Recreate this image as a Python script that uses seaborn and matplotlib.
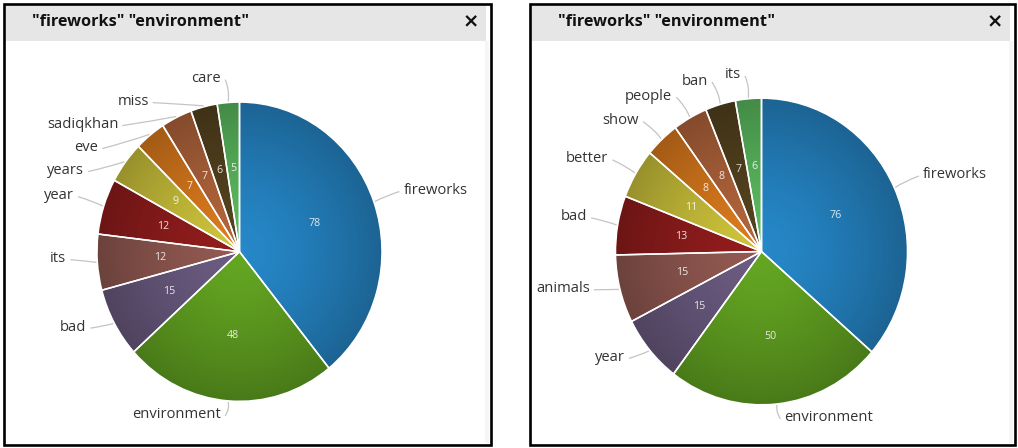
import numpy as np
import matplotlib
matplotlib.use("Agg")
import matplotlib.pyplot as plt
import seaborn as sns
from matplotlib.patches import Rectangle, Circle, PathPatch
from matplotlib.path import Path

# ---------------- data ----------------
title = '"fireworks" "environment"'

left_words = ["fireworks", "environment", "bad", "its", "year", "years",
              "eve", "sadiqkhan", "miss", "care"]
left_counts = [78, 48, 15, 12, 12, 9, 7, 7, 6, 5]

right_words = ["fireworks", "environment", "year", "animals", "bad", "better",
               "show", "people", "ban", "its"]
right_counts = [76, 50, 15, 15, 13, 11, 8, 8, 7, 6]

slice_colors = ["#2688c9", "#64a622", "#6c5c82", "#935a52", "#941d1d",
                "#cfc53c", "#de7c1e", "#b4663c", "#56441f", "#5cbd60"]

# ---------------- style ----------------
sns.set_theme(style="white")
plt.rcParams['font.family'] = ['Open Sans', 'DejaVu Sans']
palette = sns.color_palette(slice_colors)

W, H = 1018, 448
S = 1.05          # vertical stretch of the screenshot
fig = plt.figure(figsize=(W / 100, H / 100), dpi=100)
ax = fig.add_axes([0, 0, 1, 1])
ax.axis('off')


def Y(py):
    return (H - py) / S


LABEL_FS = 10.6
GAP = 23
TEXT_COLOR = "#333333"

# ---------------- panels ----------------
for (x0, x1) in [(4, 491), (530, 1015)]:
    ax.add_patch(Rectangle((x0 + 2, Y(41)), x1 - x0 - 7, Y(5) - Y(41),
                           fc="#e6e6e6", ec='none', zorder=0))
    ax.add_patch(Rectangle((x1 - 6, Y(443)), 4, Y(41) - Y(443),
                           fc="#f6f6f6", ec='none', zorder=0))
    ax.add_patch(Rectangle((x0, Y(445)), x1 - x0, Y(4) - Y(445),
                           fc='none', ec='black', lw=1.9, zorder=6))
    ax.text(x0 + 28, Y(22), title, fontsize=11.7, fontweight='bold',
            va='center', ha='left', color='#111111', zorder=7)
    ax.text(x1 - 20, Y(22), '×', fontsize=14, fontweight='bold',
            family=['DejaVu Sans'], va='center', ha='center', color='#111111', zorder=7)

renderer = fig.canvas.get_renderer()


def draw_pie(words, counts, cx, cy_px, r):
    center = (cx, Y(cy_px))
    total = sum(counts)
    wedges, texts, autotexts = ax.pie(
        counts, colors=palette, startangle=90, counterclock=False,
        center=center, radius=r,
        autopct=lambda p: f"{p * total / 100:.0f}", pctdistance=0.56,
        wedgeprops=dict(edgecolor='none', linewidth=0, zorder=1),
        textprops=dict(color='white', fontsize=7.7, alpha=0.85, zorder=4),
        frame=True)
    # radial gradient overlay (darker towards the rim)
    n = 300
    xs = np.linspace(-1, 1, n)
    XX, YY = np.meshgrid(xs, xs)
    rho = np.clip(np.sqrt(XX ** 2 + YY ** 2), 0, 1)
    rgba = np.zeros((n, n, 4))
    rgba[..., 3] = 0.27 * rho ** 1.4
    im = ax.imshow(rgba, extent=(cx - r, cx + r, center[1] - r, center[1] + r),
                   zorder=1.5, aspect='auto', interpolation='bilinear')
    im.set_clip_path(Circle(center, r, transform=ax.transData))
    # white slice borders
    ax.pie(counts, startangle=90, counterclock=False, center=center, radius=r,
           wedgeprops=dict(fill=False, edgecolor='white', linewidth=1.1, zorder=2),
           frame=True)

    # outer labels with simple vertical de-overlap
    RLx = r + 26
    RLy = r * S + 19
    lcy = cy_px - 5
    items = []
    for w, word in zip(wedges, words):
        a = np.deg2rad((w.theta1 + w.theta2) / 2)
        side = 1 if np.cos(a) >= 0 else -1
        ny = lcy - RLy * np.sin(a)
        t = ax.text(0, 0, word, fontsize=LABEL_FS)
        wd = t.get_window_extent(renderer).width
        t.remove()
        items.append(dict(word=word, a=a, side=side, ny=ny, w=wd))

    def xa(y_px, side):
        d = np.clip((y_px - lcy) / RLy, -1, 1)
        return cx + side * RLx * np.sqrt(1 - d * d)

    placed = []
    for it in sorted(items, key=lambda i: i['ny']):
        y = it['ny']
        side = it['side']
        for _ in range(20):
            x = xa(y, side)
            if side > 0:
                lo, hi = x + 5, x + 5 + it['w']
            else:
                lo, hi = x - 5 - it['w'], x - 5
            clash = None
            for p in placed:
                if p['side'] == side and abs(p['y'] - y) < GAP and lo < p['hi'] + 6 and hi > p['lo'] - 6:
                    clash = p
                    break
            if clash is None:
                break
            y = clash['y'] + GAP
        placed.append(dict(side=side, y=y, lo=lo, hi=hi))
        ax.text(x + 5 * side, Y(y), it['word'], fontsize=LABEL_FS,
                ha='left' if side > 0 else 'right', va='center',
                color=TEXT_COLOR, zorder=4)
        a = it['a']
        ex = cx + (r + 1) * np.cos(a)
        ey = cy_px - (r + 1) * S * np.sin(a)
        sx, sy = x + side * 1, y + 1
        mx = (sx + ex) / 2 - side * 3
        my = (sy + ey) / 2
        verts = [(sx, Y(sy)), (mx, Y(my)), (ex, Y(ey))]
        path = Path(verts, [Path.MOVETO, Path.CURVE3, Path.CURVE3])
        ax.add_patch(PathPatch(path, fc='none', ec='#c4c4c4', lw=0.9, zorder=3))


draw_pie(left_words, left_counts, 239.5, 251.7, 142.5)
draw_pie(right_words, right_counts, 761.5, 251.5, 146.0)

ax.set_aspect('auto')
ax.set_xlim(0, W)
ax.set_ylim(0, H / S)
ax.axis('off')

fig.savefig("out.png", dpi=100)
